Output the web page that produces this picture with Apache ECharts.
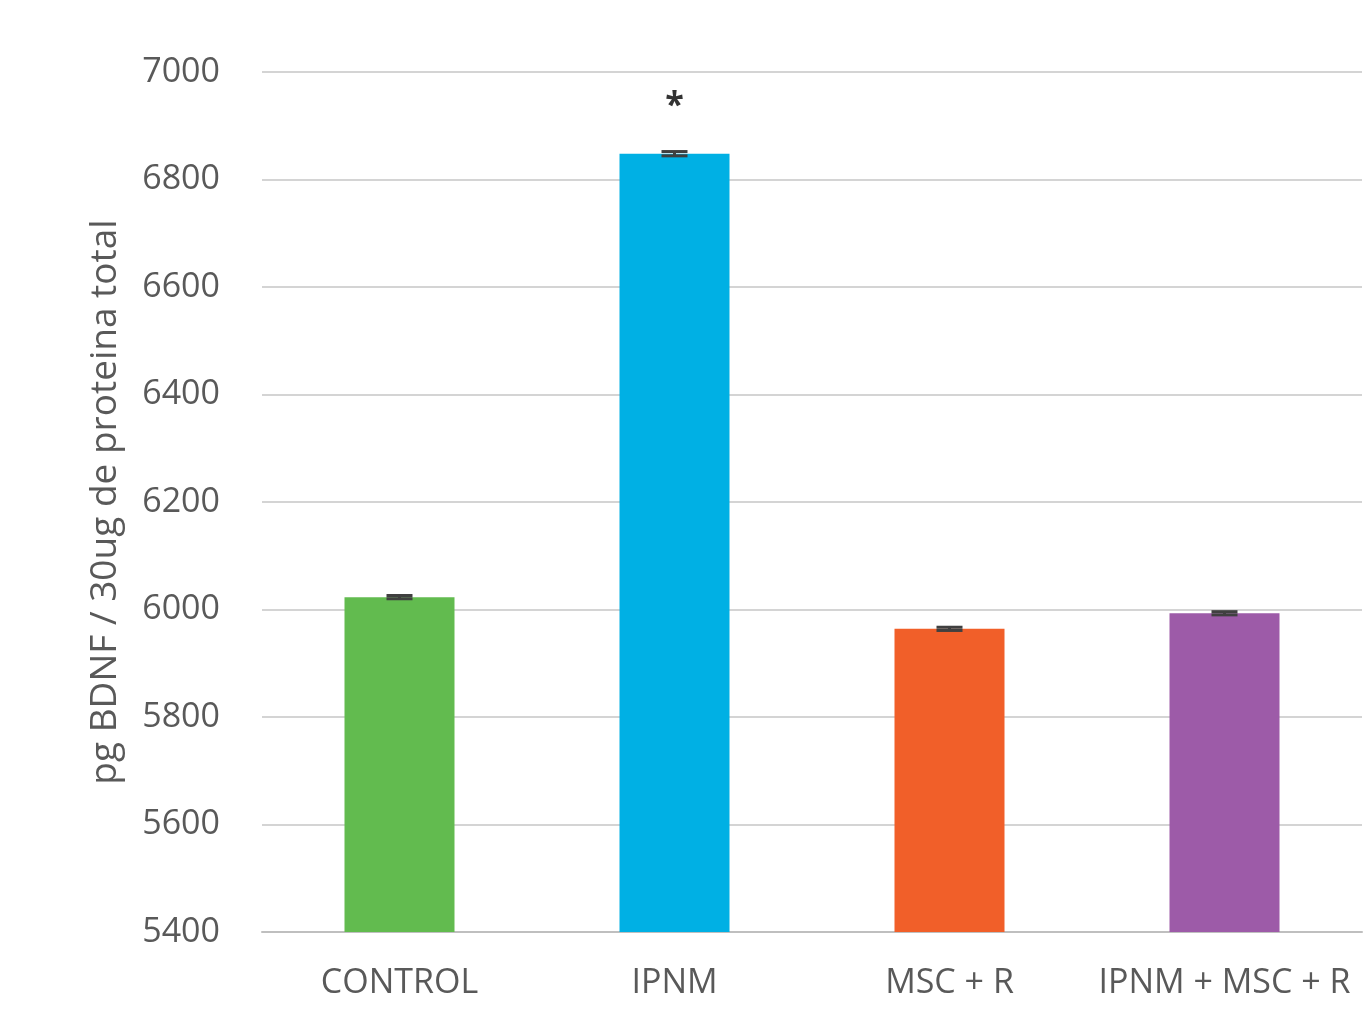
<!DOCTYPE html>
<html>
<head>
<meta charset="utf-8">
<script src="https://cdn.jsdelivr.net/npm/echarts@6/dist/echarts.min.js"></script>
<style>
  html, body { margin: 0; padding: 0; background: #fff; }
  #chart { width: 1368px; height: 1009px; }
</style>
</head>
<body>
<div id="chart"></div>
<script>
// BDNF levels per treatment group
const categories = ['CONTROL', 'IPNM', 'MSC + R', 'IPNM + MSC + R'];
const values = [6023, 6848, 5964, 5993];
const errors = [3, 4, 3, 3];
const significance = ['', '*', '', ''];
const barColors = ['#62bb4f', '#00b0e4', '#f15f29', '#9d5ba8'];
const yTicks = { min: 5400, max: 7000, interval: 200 };

const textColor = '#595959';
const font = '"Open Sans", sans-serif';

const chart = echarts.init(document.getElementById('chart'));

chart.setOption({
  animation: false,
  grid: { left: 262, right: 6, top: 72, bottom: 77 },
  xAxis: {
    type: 'category',
    data: categories,
    axisLine: { show: true, lineStyle: { color: '#bfbfbf', width: 2 } },
    axisTick: { show: false },
    axisLabel: { interval: 0, color: textColor, fontFamily: font, fontSize: 34, margin: 34 }
  },
  yAxis: {
    type: 'value',
    min: yTicks.min,
    max: yTicks.max,
    interval: yTicks.interval,
    name: 'pg BDNF / 30ug de proteina total',
    nameLocation: 'middle',
    nameGap: 138,
    nameTextStyle: { color: textColor, fontFamily: font, fontSize: 37 },
    axisLine: { show: false },
    axisTick: { show: false },
    axisLabel: {
      color: textColor, fontFamily: font, fontSize: 34, margin: 42,
      formatter: function (v) { return String(v); }
    },
    splitLine: { lineStyle: { color: '#d4d4d4', width: 2 } }
  },
  series: [
    {
      type: 'bar',
      barWidth: '40%',
      data: values.map((v, i) => ({
        value: v,
        itemStyle: { color: barColors[i] },
        label: {
          show: significance[i] !== '',
          formatter: significance[i],
          position: 'top',
          distance: 30,
          color: '#333',
          fontFamily: font,
          fontSize: 34,
          fontWeight: 'bold'
        }
      }))
    },
    {
      type: 'custom',
      z: 10,
      data: values.map((v, i) => [i, v - errors[i], v + errors[i]]),
      renderItem: function (params, api) {
        const lo = api.coord([api.value(0), api.value(1)]);
        const hi = api.coord([api.value(0), api.value(2)]);
        const half = 13;
        const style = { stroke: '#404040', lineWidth: 3 };
        return {
          type: 'group',
          children: [
            { type: 'line', shape: { x1: hi[0], y1: hi[1], x2: lo[0], y2: lo[1] }, style },
            { type: 'line', shape: { x1: hi[0] - half, y1: hi[1], x2: hi[0] + half, y2: hi[1] }, style },
            { type: 'line', shape: { x1: lo[0] - half, y1: lo[1], x2: lo[0] + half, y2: lo[1] }, style }
          ]
        };
      }
    }
  ]
});
</script>
</body>
</html>
